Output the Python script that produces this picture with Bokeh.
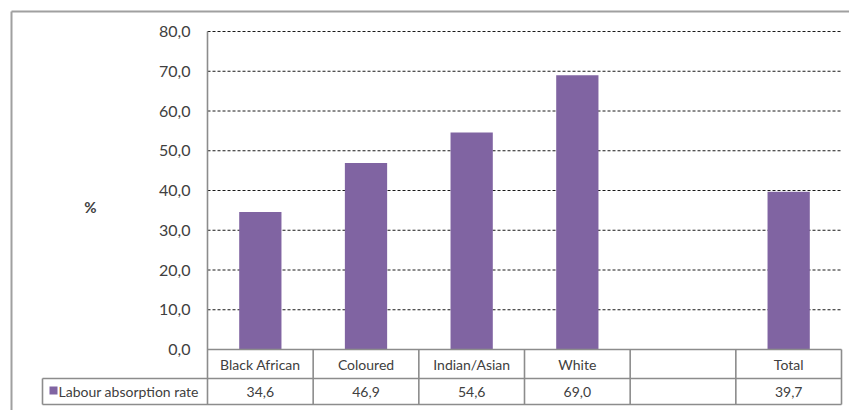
from bokeh.plotting import figure
from bokeh.models import Range1d, ColumnDataSource
from bokeh.core.properties import value
from bokeh.embed import file_html
from bokeh.resources import INLINE

# ---- data ----
categories = ["Black African", "Coloured", "Indian/Asian", "White", "", "Total"]
rates = [34.6, 46.9, 54.6, 69.0, None, 39.7]
series_name = "Labour absorption rate"
y_ticks = [0, 10, 20, 30, 40, 50, 60, 70, 80]
y_tick_labels = ["0,0", "10,0", "20,0", "30,0", "40,0", "50,0", "60,0", "70,0", "80,0"]
y_label = "%"

# ---- layout (pixels of the canvas) ----
W, H = 849, 410
AXIS_X, TABLE_R = 207, 841          # plot area left / right edge
ZERO_Y, TOP_Y = 349, 31             # y=0 and y=80 pixel rows
n = len(categories)
col_px = (TABLE_R - AXIS_X) / n
ppu = (ZERO_Y - TOP_Y) / (y_ticks[-1] - y_ticks[0])

x_start = -0.5 - AXIS_X / col_px
x_end = x_start + W / col_px
y_end = ZERO_Y / ppu
y_start = y_end - H / ppu

def xd(px):
    return x_start + px / col_px

def yd(py):
    return y_end - py / ppu

PURPLE = "#8064A2"
LINE = "#8C8C8C"
TXT = "#404040"
FONT = "Lato"

p = figure(width=W, height=H, output_backend="svg", toolbar_location=None,
           x_range=Range1d(x_start, x_end), y_range=Range1d(y_start, y_end),
           x_axis_location=None, y_axis_location=None,
           min_border=0, outline_line_color=None,
           background_fill_color="white", border_fill_color="white")
p.grid.visible = False

x_left = -0.5
x_right = n - 0.5
y_sep = yd(378)
y_bot = yd(404)
x_leg = xd(42)

# grid lines (dashed)
gt = [t for t in y_ticks if t > 0]
p.segment(x0=[x_left] * len(gt), y0=gt, x1=[x_right] * len(gt), y1=gt,
          line_color="#1a1a1a", line_dash="3 2", line_width=1)

# bars
bx = [i for i, v in enumerate(rates) if v is not None]
bv = [v for v in rates if v is not None]
p.vbar(x=bx, top=bv, bottom=0, width=0.4, fill_color=PURPLE, line_color=None)

# axis line + table borders
p.segment(x0=[x_left], y0=[y_ticks[-1]], x1=[x_left], y1=[y_bot], line_color=LINE, line_width=1.6)
p.segment(x0=[x_left, x_leg, x_leg], y0=[0, y_sep, y_bot],
          x1=[x_right, x_right, x_right], y1=[0, y_sep, y_bot],
          line_color=LINE, line_width=1.6)
vx = [i + 0.5 for i in range(n)] + [x_leg]
vy0 = [0] * n + [y_sep]
p.segment(x0=vx, y0=vy0, x1=vx, y1=[y_bot] * len(vx), line_color=LINE, line_width=1.6)

# y tick labels
p.text(x=[xd(AXIS_X - 17)] * len(y_ticks), y=y_ticks, text=y_tick_labels,
       text_align="right", text_baseline="middle", text_font=value(FONT),
       text_font_size="16px", text_color=TXT)

# y label
p.text(x=[xd(90)], y=[yd(206)], text=[y_label], text_align="center", text_baseline="middle",
       text_font=value(FONT), text_font_size="15px", text_font_style="bold", text_color=TXT)

# table text
src = ColumnDataSource(dict(
    x=list(range(n)),
    cat=categories,
    val=["" if v is None else f"{v:.1f}".replace(".", ",") for v in rates],
))
p.text(x="x", y=y_sep / 2, text="cat", source=src, text_align="center", text_baseline="middle",
       text_font=value(FONT), text_font_size="14px", text_color=TXT)
p.text(x="x", y=(y_sep + y_bot) / 2, text="val", source=src, text_align="center",
       text_baseline="middle", text_font=value(FONT), text_font_size="14px", text_color=TXT)

# legend cell
p.quad(left=[xd(49)], right=[xd(57)], top=[yd(386)], bottom=[yd(394)],
       fill_color=PURPLE, line_color=None)
p.text(x=[xd(58)], y=[(y_sep + y_bot) / 2], text=[series_name], text_align="left",
       text_baseline="middle", text_font=value(FONT), text_font_size="14px", text_color=TXT)

# outer chart border (left and top edges visible)
p.segment(x0=[xd(11), xd(11)], y0=[yd(11), yd(11)], x1=[xd(11), xd(W + 5)], y1=[yd(H + 5), yd(11)],
          line_color="#A0A0A0", line_width=2)

open("out.html", "w").write(file_html(p, INLINE))
